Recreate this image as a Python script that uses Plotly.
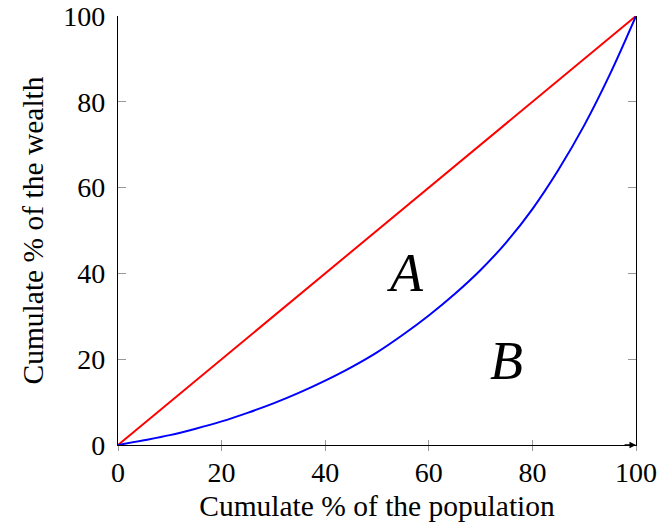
import plotly.graph_objects as go

# Data
pop = [0, 5, 10, 15, 20, 25, 30, 35, 40, 45, 50, 55, 60, 65, 70, 75, 80, 85, 90, 95, 100]
wealth = [0, 1.1, 2.3, 3.8, 5.5, 7.5, 9.7, 12.2, 15.0, 18.1, 21.6, 25.7, 30.2, 35.2, 40.8,
          47.3, 55.0, 64.1, 74.5, 86.5, 100]
equal_x = [0, 100]
equal_y = [0, 100]
tick_vals = [0, 20, 40, 60, 80, 100]
labels = ["A", "B"]
label_x = [55.5, 75]
label_y = [40.2, 19.6]

FONT = "Liberation Serif"

fig = go.Figure()
fig.add_trace(go.Scatter(x=equal_x, y=equal_y, mode="lines",
                         line=dict(color="#ff0000", width=2), showlegend=False))
fig.add_trace(go.Scatter(x=pop, y=wealth, mode="lines",
                         line=dict(color="#0000ff", width=2, shape="spline", smoothing=1.0),
                         showlegend=False))
# overlay axis for outward half of crossing x ticks
fig.add_trace(go.Scatter(x=[0], y=[0], mode="markers", marker=dict(opacity=0),
                         xaxis="x2", showlegend=False, hoverinfo="skip"))

for t, xx, yy in zip(labels, label_x, label_y):
    fig.add_annotation(x=xx, y=yy, text="<i>" + t + "</i>", showarrow=False,
                       font=dict(family=FONT, size=54, color="black"),
                       xref="x", yref="y")

# arrow at end of x axis
fig.add_annotation(x=100, y=0, ax=97.5, ay=0, xref="x", yref="y", axref="x", ayref="y",
                   text="", showarrow=True, arrowhead=2, arrowsize=1, arrowwidth=1.3,
                   arrowcolor="black")

fig.update_layout(
    width=660, height=527,
    margin=dict(l=118, r=24, t=16, b=82, autoexpand=False),
    paper_bgcolor="white", plot_bgcolor="white",
    font=dict(family=FONT, size=28, color="black"),
    xaxis=dict(range=[0, 100], tickvals=tick_vals, showgrid=False, zeroline=False,
               automargin=False,
               showline=True, linecolor="black", linewidth=1.3, mirror=False,
               ticks="inside", ticklen=5, tickcolor="#999999", tickwidth=1,
               ticklabelstandoff=2,
               title=dict(text="Cumulate % of the population", standoff=8,
                          font=dict(family=FONT, size=29.5))),
    xaxis2=dict(range=[0, 100], tickvals=tick_vals, overlaying="x", side="bottom",
                anchor="y", showgrid=False, zeroline=False, showline=False,
                automargin=False,
                showticklabels=False, ticks="outside", ticklen=5,
                tickcolor="#999999", tickwidth=1),
    yaxis=dict(range=[0, 100], tickvals=tick_vals, showgrid=False, zeroline=False,
               automargin=False,
               showline=True, linecolor="black", linewidth=1.3, mirror="ticks",
               ticks="inside", ticklen=8, tickcolor="#999999", tickwidth=1,
               ticklabelstandoff=6,
               title=dict(text="Cumulate % of the wealth", standoff=10,
                          font=dict(family=FONT, size=29.5))),
)

fig.write_html("out.html")
